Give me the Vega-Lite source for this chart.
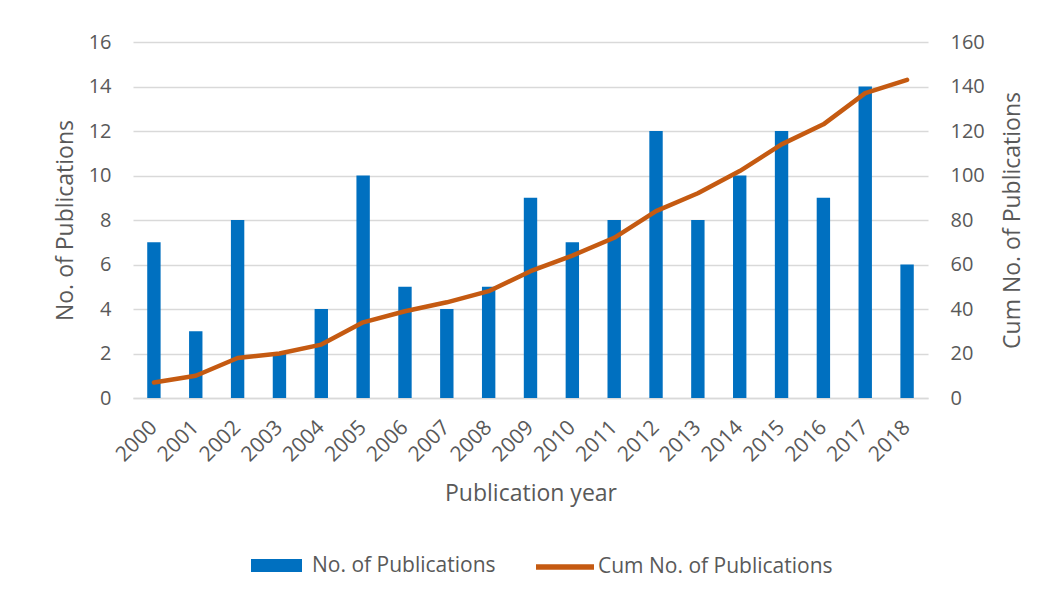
{
  "$schema": "https://vega.github.io/schema/vega-lite/v6.json",
  "width": 795,
  "height": 356,
  "autosize": {"type": "none"},
  "padding": {"left": 133, "top": 42, "right": 135, "bottom": 197},
  "background": "white",
  "config": {
    "view": {"stroke": null},
    "font": "Open Sans",
    "axis": {"labelFont": "Open Sans", "titleFont": "Open Sans", "labelColor": "#595959", "titleColor": "#595959", "labelFontSize": 20, "titleFontSize": 23, "titleFontWeight": "normal", "ticks": false},
    "legend": {"labelFont": "Open Sans", "labelFontSize": 21, "labelColor": "#595959", "padding": 0, "labelLimit": 0}
  },
  "data": {"values": [
    {"year": "2000", "count": 7, "cum": 7},
    {"year": "2001", "count": 3, "cum": 10},
    {"year": "2002", "count": 8, "cum": 18},
    {"year": "2003", "count": 2, "cum": 20},
    {"year": "2004", "count": 4, "cum": 24},
    {"year": "2005", "count": 10, "cum": 34},
    {"year": "2006", "count": 5, "cum": 39},
    {"year": "2007", "count": 4, "cum": 43},
    {"year": "2008", "count": 5, "cum": 48},
    {"year": "2009", "count": 9, "cum": 57},
    {"year": "2010", "count": 7, "cum": 64},
    {"year": "2011", "count": 8, "cum": 72},
    {"year": "2012", "count": 12, "cum": 84},
    {"year": "2013", "count": 8, "cum": 92},
    {"year": "2014", "count": 10, "cum": 102},
    {"year": "2015", "count": 12, "cum": 114},
    {"year": "2016", "count": 9, "cum": 123},
    {"year": "2017", "count": 14, "cum": 137},
    {"year": "2018", "count": 6, "cum": 143}
  ]},
  "encoding": {
    "x": {
      "field": "year", "type": "ordinal",
      "scale": {"paddingInner": 0.68, "paddingOuter": 0.34},
      "axis": {"title": "Publication year", "labelAngle": -45, "labelAlign": "right", "labelBaseline": "middle", "labelFontSize": 21, "labelPadding": 26, "domainColor": "#D9D9D9", "domainWidth": 1.5, "grid": false, "titlePadding": 17}
    }
  },
  "layer": [
    {
      "mark": {"type": "bar"},
      "encoding": {
        "y": {
          "field": "count", "type": "quantitative",
          "scale": {"domain": [0, 16]},
          "axis": {"title": "No. of Publications", "values": [0, 2, 4, 6, 8, 10, 12, 14, 16], "grid": true, "gridColor": "#D9D9D9", "gridWidth": 1.5, "domain": false, "labelPadding": 22, "titlePadding": 11}
        },
        "fill": {
          "datum": "No. of Publications", "type": "nominal",
          "scale": {"range": ["#0070C0"]},
          "legend": {"title": null, "orient": "none", "legendX": 118, "legendY": 498, "symbolType": "M-1,-0.255H1V0.255H-1Z", "symbolSize": 2601, "symbolStrokeWidth": 0, "labelOffset": 10}
        }
      }
    },
    {
      "mark": {"type": "line", "strokeWidth": 4.5, "strokeCap": "round", "strokeJoin": "round"},
      "encoding": {
        "y": {
          "field": "cum", "type": "quantitative",
          "scale": {"domain": [0, 160]},
          "axis": {"title": "Cum No. of Publications", "orient": "right", "values": [0, 20, 40, 60, 80, 100, 120, 140, 160], "grid": false, "domain": false, "labelPadding": 22, "titlePadding": 40, "titleAngle": -90}
        },
        "stroke": {
          "datum": "Cum No. of Publications", "type": "nominal",
          "scale": {"range": ["#C55A11"]},
          "legend": {"title": null, "orient": "none", "legendX": 400, "legendY": 493, "symbolType": "stroke", "symbolSize": 3364, "symbolStrokeWidth": 5.5, "labelOffset": 1}
        }
      }
    }
  ],
  "resolve": {"scale": {"y": "independent", "fill": "independent", "stroke": "independent"}}
}
